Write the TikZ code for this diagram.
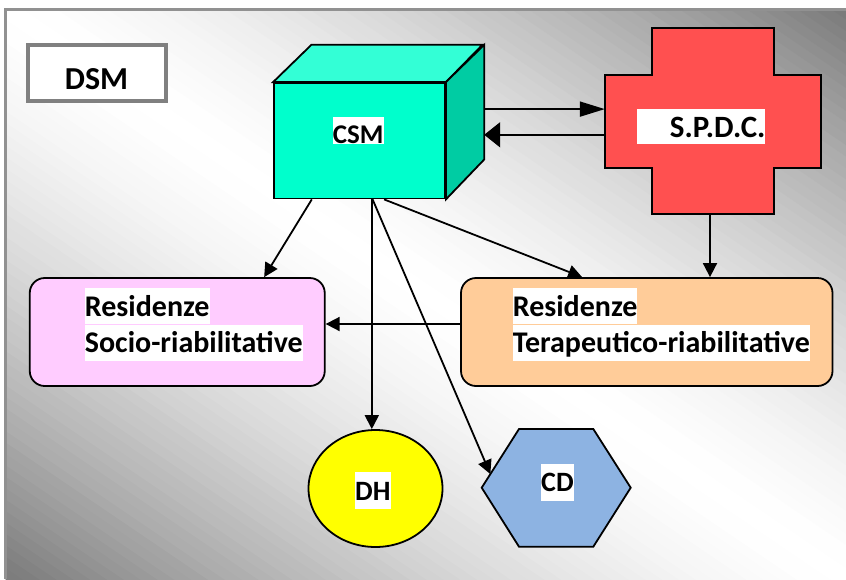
\documentclass[tikz,border=0pt]{standalone}
\usepackage{fontspec}
\setmainfont{Carlito}
\usetikzlibrary{arrows.meta,shapes.geometric,calc}
\definecolor{csmfront}{RGB}{0,255,204}
\definecolor{csmtop}{RGB}{51,255,214}
\definecolor{csmside}{RGB}{0,204,163}
\definecolor{spdcred}{RGB}{255,80,80}
\definecolor{pinkbox}{RGB}{255,204,255}
\definecolor{peach}{RGB}{255,204,153}
\definecolor{cdblue}{RGB}{141,179,226}
\definecolor{dhyellow}{RGB}{255,255,0}
\definecolor{framegray}{RGB}{128,128,128}
\definecolor{bgdark}{RGB}{122,122,122}
\definecolor{borderline}{RGB}{145,145,145}
\begin{document}
\begin{tikzpicture}[x=1pt,y=-1pt,
  arr/.style={line width=1.8pt,-{Triangle[length=14pt,width=14pt]}},
  shapeline/.style={draw=black,line width=1.8pt},
  lbl/.style={fill=white,inner sep=0pt,anchor=base west,text height=28pt,text depth=8pt,
    font=\bfseries\fontsize{30pt}{36pt}\selectfont},
  rbox/.style={shapeline,rounded corners=15pt,minimum height=108pt,inner sep=0pt}
]
\useasboundingbox (0,0) rectangle (846,579);
% background panel: diagonal gradient, white along the top-left/bottom-right diagonal
\begin{scope}
\clip (5,8) rectangle (846,579);
\foreach \i in {0,...,99} {
  \pgfmathsetmacro\qa{-1+\i/50}
  \pgfmathsetmacro\qb{\qa+0.022}
  \pgfmathtruncatemacro\pc{round(100*(abs(\qa+0.01))^1.5)}
  \fill[bgdark!\pc!white]
    (5+\qa*420.5, 8-\qa*285.5) -- (846+\qa*420.5, 579-\qa*285.5)
    -- (846+\qb*420.5, 579-\qb*285.5) -- (5+\qb*420.5, 8-\qb*285.5) -- cycle;
}
\end{scope}
\draw[borderline,line width=3pt] (5.5,579) -- (5.5,9) -- (846,9);

% DSM box
\node[draw=framegray,line width=3.3pt,fill=white,minimum width=138pt,minimum height=56pt,inner sep=0pt] (dsm) at (97,73) {};
\node[inner sep=0pt,anchor=base,font=\bfseries\fontsize{32pt}{38pt}\selectfont] (dsmtext) at (96.5,89.3) {DSM};

% CSM cube
\node[shapeline,fill=csmfront,minimum width=171pt,minimum height=115.5pt,inner sep=0pt] (csm) at (359.5,140.75) {};
\draw[shapeline,fill=csmtop,line join=miter] (csm.north west) -- ++(38.3,-37.3) -- ++(171,0) -- (csm.north east) -- cycle;
\draw[shapeline,fill=csmside,line join=miter] (csm.north east) -- ++(38.3,-37.3) -- ++(0,114.7) -- (csm.south east) -- cycle;
\node[lbl,text height=26pt,text depth=1pt,font=\bfseries\fontsize{27pt}{32pt}\selectfont] (csmlbl) at (332.7,143) {CSM};

% S.P.D.C. cross
\draw[shapeline,fill=spdcred] (652,28.3) -- (774.3,28.3) -- (774.3,75) -- (821,75) -- (821,167.7)
  -- (774.3,167.7) -- (774.3,214.3) -- (652,214.3) -- (652,167.7) -- (605,167.7) -- (605,75)
  -- (652,75) -- cycle;
\node[inner sep=0pt,minimum width=216pt,minimum height=92.7pt] (spdc) at (713,121.35) {};
\node[lbl,text height=28.3pt,text depth=6.7pt,font=\bfseries\fontsize{31pt}{36pt}\selectfont] (spdclbl) at (636.7,137.3) {\hspace*{33pt}S.P.D.C.};
\coordinate (spdcbot) at (710,214.3);

% residences
\node[rbox,fill=pinkbox,minimum width=295pt] (pink) at (177.25,332) {};
\node[rbox,fill=peach,minimum width=371.5pt] (orange) at (646.75,332) {};
\node[lbl] (pink1) at (84.7,316) {Residenze};
\node[lbl] (pink2) at (84.7,352.5) {Socio-riabilitative};
\node[lbl] (or1) at (512.6,316) {Residenze};
\node[lbl] (or2) at (512.6,352.5) {Terapeutico-riabilitative};

% DH
\node[shapeline,ellipse,fill=dhyellow,minimum width=134pt,minimum height=117pt,inner sep=0pt] (dh) at (375.5,488.5) {};
\node[lbl,text height=28.7pt,text depth=8pt,font=\bfseries\fontsize{28pt}{34pt}\selectfont] (dhlbl) at (355,500.7) {DH};

% CD hexagon
\coordinate (cdL) at (481.7,487.7);
\coordinate (cdTL) at (519,429);
\draw[shapeline,fill=cdblue] (cdL) -- (cdTL) -- (593.3,429) -- (630.7,487.7) -- (593.3,546.7) -- (519,546.7) -- cycle;
\node[inner sep=0pt,minimum width=149pt,minimum height=117.7pt] (cd) at (556.2,487.85) {};
\node[lbl,text height=27.7pt,text depth=9pt,font=\bfseries\fontsize{28pt}{34pt}\selectfont] (cdlbl) at (541,491.7) {CD};
\coordinate (cdtip) at ($(cdL)!0.232!(cdTL)$);

% connector anchors on the cube
\coordinate (csmr1) at ($(csm.north east)+(38.3,27)$);
\coordinate (csmr2) at ($(csm.north east)+(38.3,52.7)$);
\coordinate (csmb1) at ($(csm.south west)+(38.7,0)$);
\coordinate (csmb2) at ($(csm.south west)+(98.7,0)$);
\coordinate (csmb3) at ($(csm.south west)+(99.5,0)$);
\coordinate (csmb4) at ($(csm.south west)+(111,0)$);

% connectors
\draw[line width=1.8pt,-{Triangle[length=25pt,width=15pt]}] (csmr1) -- (csmr1 -| spdc.west);
\draw[line width=1.8pt,-{Triangle[length=16pt,width=25pt]}] (spdc.west |- csmr2) -- (csmr2);
\draw[arr] (spdcbot) -- (spdcbot |- orange.north);
\draw[arr] ($(orange.west)+(0,-8)$) -- ($(pink.east)+(0,-8)$);
\draw[arr] (csmb1) -- ($(pink.north west)+(235.3,0)$);
\draw[arr] (csmb4) -- ($(orange.north west)+(122,0)$);
\draw[arr] (csmb2) -- (csmb2 |- dh.north);
\draw[arr] (csmb3) -- (cdtip);
\end{tikzpicture}
\end{document}
